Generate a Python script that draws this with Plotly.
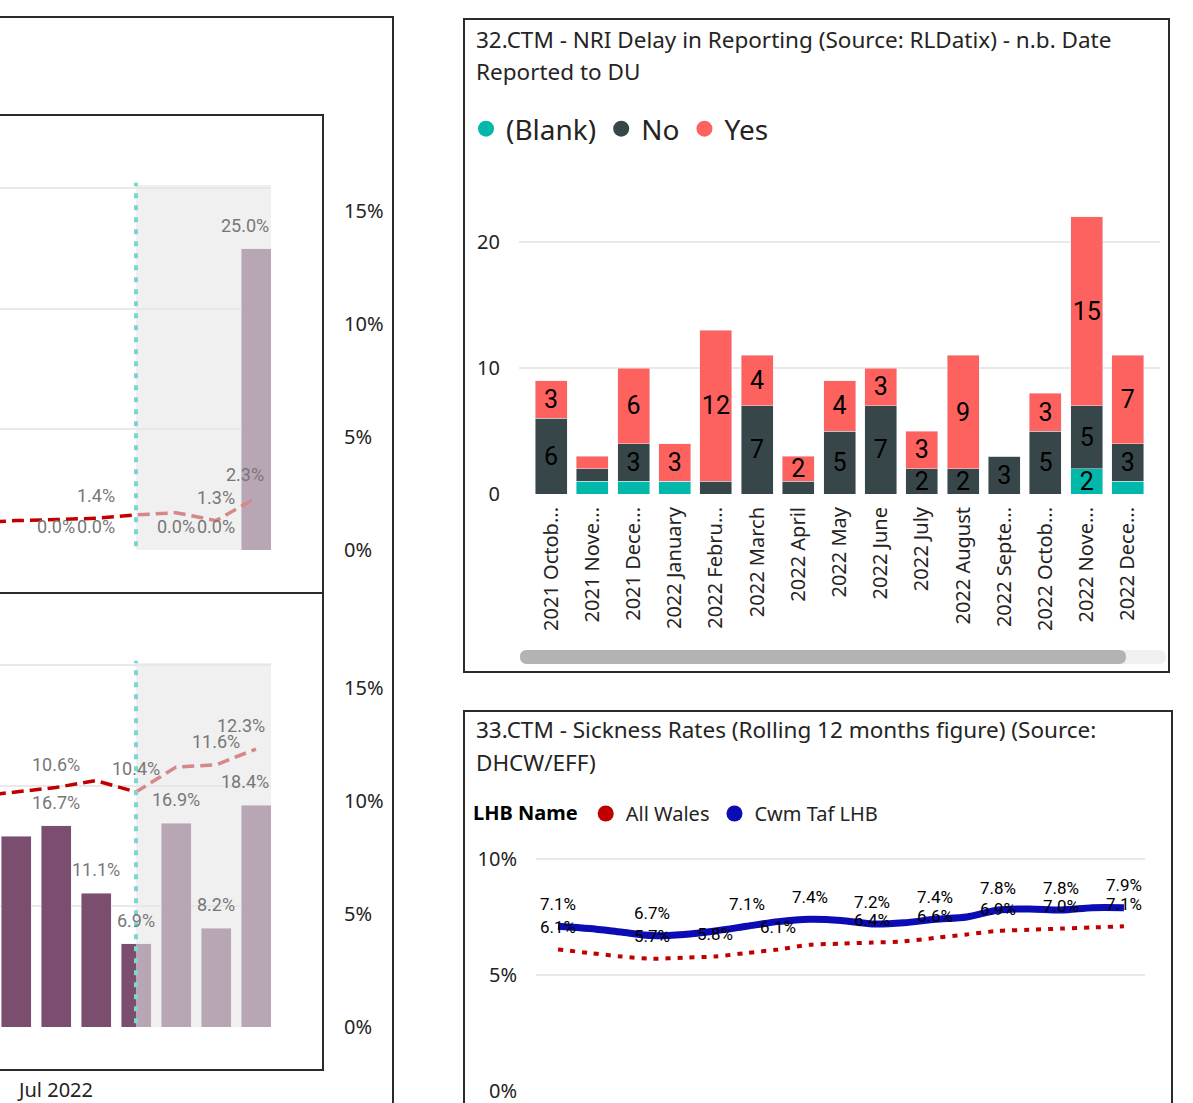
import plotly.graph_objects as go

W = 1193
H_FIG = 1120            # figure height
SY, CY = 1103 / 1120, 3.0  # observed vertical mapping of the photographed page

# ---------------- DATA ----------------
# Left panel (cropped view): monthly % bars + % line, shaded forecast region
left_months = ["May 2022", "Jun 2022", "Jul 2022", "Aug 2022",
               "Sep 2022", "Oct 2022", "Nov 2022", "Dec 2022"]
top_bar_values = [None, 0.0, 0.0, 0.0, 0.0, 0.0, 0.0, 25.0]
top_bar_label_on = [0, 0, 1, 1, 0, 1, 1, 1]
top_line_values = [1.2, 1.3, 1.35, 1.4, 1.55, 1.65, 1.3, 2.3]
top_line_label_on = [0, 0, 0, 1, 0, 0, 1, 1]

bottom_bar_values = [None, 15.8, 16.7, 11.1, 6.9, 16.9, 8.2, 18.4]
bottom_bar_label_on = [0, 0, 1, 1, 1, 1, 1, 1]
bottom_line_values = [10.2, 10.4, 10.6, 10.9, 10.4, 11.5, 11.6, 12.3]
bottom_line_label_on = [0, 0, 1, 0, 1, 0, 1, 1]

forecast_from = "Sep 2022"
left_tick_months = ["Jul 2022"]
bar_axis_ticks = [0, 10, 20, 30]
line_axis_ticks = [0, 5, 10, 15]

# 32.CTM - NRI Delay in Reporting
nri_months = ["2021 October", "2021 November", "2021 December", "2022 January",
              "2022 February", "2022 March", "2022 April", "2022 May", "2022 June",
              "2022 July", "2022 August", "2022 September", "2022 October",
              "2022 November", "2022 December"]
nri_tick_labels = ["2021 Octob...", "2021 Nove...", "2021 Dece...", "2022 January",
                   "2022 Febru...", "2022 March", "2022 April", "2022 May", "2022 June",
                   "2022 July", "2022 August", "2022 Septe...", "2022 Octob...",
                   "2022 Nove...", "2022 Dece..."]
nri_blank = [0, 1, 1, 1, 0, 0, 0, 0, 0, 0, 0, 0, 0, 2, 1]
nri_no = [6, 1, 3, 0, 1, 7, 1, 5, 7, 2, 2, 3, 5, 5, 3]
nri_yes = [3, 1, 6, 3, 12, 4, 2, 4, 3, 3, 9, 0, 3, 15, 7]
nri_y_ticks = [0, 10, 20]

# 33.CTM - Sickness Rates (rolling 12 months, %)
sick_months = ["Jun 2021", "Jul 2021", "Aug 2021", "Sep 2021", "Oct 2021", "Nov 2021",
               "Dec 2021", "Jan 2022", "Feb 2022", "Mar 2022", "Apr 2022", "May 2022",
               "Jun 2022", "Jul 2022", "Aug 2022", "Sep 2022", "Oct 2022", "Nov 2022",
               "Dec 2022"]
cwm_taf = [7.1, 7.0, 6.85, 6.7, 6.75, 6.9, 7.1, 7.3, 7.4, 7.35, 7.2, 7.25,
           7.4, 7.5, 7.8, 7.85, 7.8, 7.9, 7.9]
all_wales = [6.1, 5.95, 5.8, 5.7, 5.75, 5.8, 5.95, 6.1, 6.3, 6.35, 6.4, 6.45,
             6.6, 6.75, 6.9, 6.95, 7.0, 7.05, 7.1]
cwm_taf_label_on = [1, 0, 0, 1, 0, 0, 1, 0, 1, 0, 1, 0, 1, 0, 1, 0, 1, 0, 1]
all_wales_label_on = [1, 0, 0, 1, 0, 1, 0, 1, 0, 0, 1, 0, 1, 0, 1, 0, 1, 0, 1]
sick_y_ticks = [0, 5, 10]

# ---------------- STYLE ----------------
PURPLE = "#7B4D6F"
DARKRED = "#C00000"
TEAL_LINE = "#7ED6CF"
BLANK_C, NO_C, YES_C = "#01B8AA", "#374649", "#FD625E"
WALES_C, CWM_C = "#C00000", "#0C0CB5"
GRID = "#E9E9E9"
TXT = "#252423"
LABEL_GRAY = "#777777"
UI_FONT = "Noto Sans"
NUM_FONT = "Roboto"


def fx(px):
    return px / W


def fy(py):
    return 1 - ((py - CY) / SY) / H_FIG


def vpx(d):
    """vertical pixel distance in the picture -> figure pixels"""
    return d / SY


def pct_text(vals):
    return [f"{v}%" for v in vals]


# pixel geometry of plot areas (picture pixels)
LEFT_X0, LEFT_X1 = 0, 271
TOP_Y0, TOP_Y1 = 184, 549
BOT_Y0, BOT_Y1 = 662, 1026
BAR_PX_PER_PCT = 12.06
LINE_PX_PER_PCT = 22.6
CAT_PX = 40.0
FIRST_VISIBLE_CENTER_PX = 16  # centre of "Jun 2022"
left_range = [1 - FIRST_VISIBLE_CENTER_PX / CAT_PX,
              1 + (LEFT_X1 - FIRST_VISIBLE_CENTER_PX) / CAT_PX]

fig = go.Figure()

# ---- left top chart ----
fig.add_trace(go.Bar(x=left_months, y=top_bar_values, marker_color=PURPLE, width=0.75,
                     xaxis="x", yaxis="y", showlegend=False, hoverinfo="skip"))
fig.add_trace(go.Scatter(x=left_months, y=top_line_values, mode="lines",
                         line=dict(color=DARKRED, width=3.5, dash="12px,6px"),
                         xaxis="x", yaxis="y2", showlegend=False, hoverinfo="skip"))
# ---- left bottom chart ----
fig.add_trace(go.Bar(x=left_months, y=bottom_bar_values, marker_color=PURPLE, width=0.75,
                     xaxis="x2", yaxis="y3", showlegend=False, hoverinfo="skip"))
fig.add_trace(go.Scatter(x=left_months, y=bottom_line_values, mode="lines",
                         line=dict(color=DARKRED, width=3.5, dash="12px,6px"),
                         xaxis="x2", yaxis="y4", showlegend=False, hoverinfo="skip"))


def lbl(v):
    return "" if v < 2 else str(v)


# ---- NRI stacked bars ----
for name, vals, col in [("(Blank)", nri_blank, BLANK_C), ("No", nri_no, NO_C), ("Yes", nri_yes, YES_C)]:
    fig.add_trace(go.Bar(x=nri_months, y=vals, marker_color=col, width=0.777, name=name,
                         text=[lbl(v) for v in vals], textposition="inside",
                         insidetextanchor="middle", textangle=0, constraintext="none",
                         insidetextfont=dict(family=NUM_FONT, size=25, color="#000000"),
                         xaxis="x3", yaxis="y5", showlegend=False, hoverinfo="skip"))
    fig.add_trace(go.Scatter(x=[None], y=[None], mode="markers", name=name,
                             marker=dict(color=col, size=20), legend="legend",
                             xaxis="x3", yaxis="y5", showlegend=True))

# ---- Sickness lines ----
fig.add_trace(go.Scatter(x=sick_months, y=all_wales, mode="lines",
                         line=dict(color=WALES_C, width=4, dash="5px,7px", shape="spline", smoothing=0.8),
                         xaxis="x4", yaxis="y6", showlegend=False, hoverinfo="skip"))
fig.add_trace(go.Scatter(x=sick_months, y=cwm_taf, mode="lines",
                         line=dict(color=CWM_C, width=7, shape="spline", smoothing=0.8),
                         xaxis="x4", yaxis="y6", showlegend=False, hoverinfo="skip"))
for name, col in [("All Wales", WALES_C), ("Cwm Taf LHB", CWM_C)]:
    fig.add_trace(go.Scatter(x=[None], y=[None], mode="markers", name=name,
                             marker=dict(color=col, size=20), legend="legend2",
                             xaxis="x4", yaxis="y6", showlegend=True))

annotations = []


def add_labels(xs, ys, on, xref, yref, color, size, yshift, last_shift=0):
    n = len(xs)
    for i, (xv, yv, show) in enumerate(zip(xs, ys, on)):
        if not show or yv is None:
            continue
        annotations.append(dict(x=xv, y=yv, xref=xref, yref=yref, text=f"{yv:.1f}%",
                                showarrow=False, yshift=vpx(yshift),
                                xshift=last_shift if i == n - 1 else 0,
                                font=dict(family=NUM_FONT, size=size, color=color)))


add_labels(left_months, top_bar_values, top_bar_label_on, "x", "y", LABEL_GRAY, 18, 23, -11)
add_labels(left_months, top_line_values, top_line_label_on, "x", "y2", LABEL_GRAY, 18, 23, -11)
add_labels(left_months, bottom_bar_values, bottom_bar_label_on, "x2", "y3", LABEL_GRAY, 18, 23, -11)
add_labels(left_months, bottom_line_values, bottom_line_label_on, "x2", "y4", LABEL_GRAY, 18, 23, -15)
add_labels(sick_months, cwm_taf, cwm_taf_label_on, "x4", "y6", "#000000", 17, 22)
add_labels(sick_months, all_wales, all_wales_label_on, "x4", "y6", "#000000", 17, 22)

# titles
for text, px, py in [("32.CTM - NRI Delay in Reporting (Source: RLDatix) - n.b. Date", 474, 38),
                     ("Reported to DU", 474, 70),
                     ("33.CTM - Sickness Rates (Rolling 12 months figure) (Source:", 474, 729),
                     ("DHCW/EFF)", 474, 761)]:
    annotations.append(dict(x=fx(px), y=fy(py), xref="paper", yref="paper", text=text,
                            xanchor="left", yanchor="middle", showarrow=False,
                            font=dict(family=UI_FONT, size=22.5, color=TXT)))

shapes = []
fc_idx = left_months.index(forecast_from)
for xr, yr in [("x", "y"), ("x2", "y3")]:
    shapes.append(dict(type="rect", xref=xr, yref=f"{yr} domain", x0=fc_idx, x1=left_range[1],
                       y0=0, y1=1, fillcolor="#E6E6E6", opacity=0.59, line=dict(width=0),
                       layer="above"))
    shapes.append(dict(type="line", xref=xr, yref=f"{yr} domain", x0=fc_idx, x1=fc_idx,
                       y0=0.01, y1=1.006, line=dict(color=TEAL_LINE, width=4, dash="5px,7px"),
                       layer="above"))

# frames
for x0, y0, x1, y1 in [(-10, 16, 393, 1150), (-10, 114, 323, 592), (-10, 592, 323, 1069),
                       (464, 18, 1169, 671), (464, 710, 1172, 1150)]:
    shapes.append(dict(type="rect", xref="paper", yref="paper", x0=fx(x0), x1=fx(x1),
                       y0=fy(y1), y1=fy(y0), line=dict(color="#2B2B2B", width=2),
                       fillcolor="rgba(0,0,0,0)", layer="above"))


def rounded(x0, y0, x1, y1, r):
    return (f"M {fx(x0 + r)},{fy(y0)} L {fx(x1 - r)},{fy(y0)} "
            f"Q {fx(x1)},{fy(y0)} {fx(x1)},{fy(y0 + r)} L {fx(x1)},{fy(y1 - r)} "
            f"Q {fx(x1)},{fy(y1)} {fx(x1 - r)},{fy(y1)} L {fx(x0 + r)},{fy(y1)} "
            f"Q {fx(x0)},{fy(y1)} {fx(x0)},{fy(y1 - r)} L {fx(x0)},{fy(y0 + r)} "
            f"Q {fx(x0)},{fy(y0)} {fx(x0 + r)},{fy(y0)} Z")


shapes.append(dict(type="path", xref="paper", yref="paper", path=rounded(520, 649, 1166, 663, 7),
                   fillcolor="#F0F0F0", line=dict(width=0)))
shapes.append(dict(type="path", xref="paper", yref="paper", path=rounded(520, 649, 1126, 663, 7),
                   fillcolor="#B3B3B3", line=dict(width=0)))

axis_font = dict(family=UI_FONT, size=20, color=TXT)

fig.update_layout(
    width=W, height=H_FIG, margin=dict(l=0, r=0, t=0, b=0),
    paper_bgcolor="white", plot_bgcolor="rgba(0,0,0,0)",
    barmode="stack", font=dict(family=UI_FONT, color=TXT),
    annotations=annotations, shapes=shapes,
    # left top
    xaxis=dict(domain=[fx(LEFT_X0), fx(LEFT_X1)], anchor="y", range=left_range,
               type="category", categoryarray=left_months, showgrid=False,
               showticklabels=False, ticks="", showline=False, zeroline=False),
    yaxis=dict(domain=[fy(TOP_Y1), fy(TOP_Y0)], anchor="x",
               range=[0, (TOP_Y1 - TOP_Y0) / BAR_PX_PER_PCT], tickvals=bar_axis_ticks,
               showticklabels=False, showgrid=True, gridcolor=GRID, gridwidth=2, zeroline=False),
    yaxis2=dict(overlaying="y", side="right", anchor="free", position=fx(343),
                range=[0, (TOP_Y1 - TOP_Y0) / LINE_PX_PER_PCT], tickvals=line_axis_ticks,
                ticktext=pct_text(line_axis_ticks), showgrid=False, zeroline=False,
                tickfont=axis_font, ticks=""),
    # left bottom
    xaxis2=dict(domain=[fx(LEFT_X0), fx(LEFT_X1)], anchor="y3", range=left_range,
                type="category", categoryarray=left_months, showgrid=False,
                tickvals=left_tick_months, ticktext=left_tick_months, ticks="",
                ticklabelstandoff=49, tickfont=axis_font, showline=False, zeroline=False),
    yaxis3=dict(domain=[fy(BOT_Y1), fy(BOT_Y0)], anchor="x2",
                range=[0, (BOT_Y1 - BOT_Y0) / BAR_PX_PER_PCT], tickvals=bar_axis_ticks,
                showticklabels=False, showgrid=True, gridcolor=GRID, gridwidth=2, zeroline=False),
    yaxis4=dict(overlaying="y3", side="right", anchor="free", position=fx(343),
                range=[0, (BOT_Y1 - BOT_Y0) / LINE_PX_PER_PCT], tickvals=line_axis_ticks,
                ticktext=pct_text(line_axis_ticks), showgrid=False, zeroline=False,
                tickfont=axis_font, ticks=""),
    # NRI
    xaxis3=dict(domain=[fx(519), fx(1160)], anchor="y5", range=[-0.78, 14.78],
                type="category", categoryarray=nri_months, tickvals=nri_months,
                ticktext=nri_tick_labels, tickangle=-90, ticks="", ticklabelstandoff=8,
                tickfont=axis_font, showgrid=False, zeroline=False),
    yaxis5=dict(domain=[fy(493), fy(190)], anchor="x3", range=[0, (493 - 190) / 12.6],
                tickvals=nri_y_ticks, showgrid=True, gridcolor=GRID, gridwidth=2,
                zeroline=False, ticks="", ticklabelstandoff=18, tickfont=axis_font),
    # Sickness
    xaxis4=dict(domain=[fx(536), fx(1145)], anchor="y6", range=[-0.70, 18.67],
                type="category", categoryarray=sick_months, showticklabels=False,
                showgrid=False, zeroline=False, ticks=""),
    yaxis6=dict(domain=[fy(1090), fy(848)], anchor="x4", range=[0, (1090 - 848) / 23.2],
                tickvals=sick_y_ticks, ticktext=pct_text(sick_y_ticks), showgrid=True,
                gridcolor=GRID, gridwidth=2, zeroline=False, ticks="", ticklabelstandoff=18,
                tickfont=axis_font),
    legend=dict(orientation="h", x=fx(466), y=fy(103), xanchor="left", yanchor="top",
                traceorder="normal",
                font=dict(family=UI_FONT, size=28, color=TXT), bgcolor="rgba(0,0,0,0)",
                itemclick=False),
    legend2=dict(orientation="h", x=fx(471), y=fy(793), xanchor="left", yanchor="top",
                 traceorder="normal",
                 font=dict(family=UI_FONT, size=20, color=TXT), bgcolor="rgba(0,0,0,0)",
                 title=dict(text="<b>LHB Name</b>", side="left",
                            font=dict(family=UI_FONT, size=20, color="#000000")),
                 itemclick=False),
)

page_js = ("document.documentElement.style.margin='0px';"
           "document.body.style.margin='0px';"
           "document.body.style.padding='0px';")

fig.write_html("out.html", config={"displayModeBar": False}, post_script=page_js)
